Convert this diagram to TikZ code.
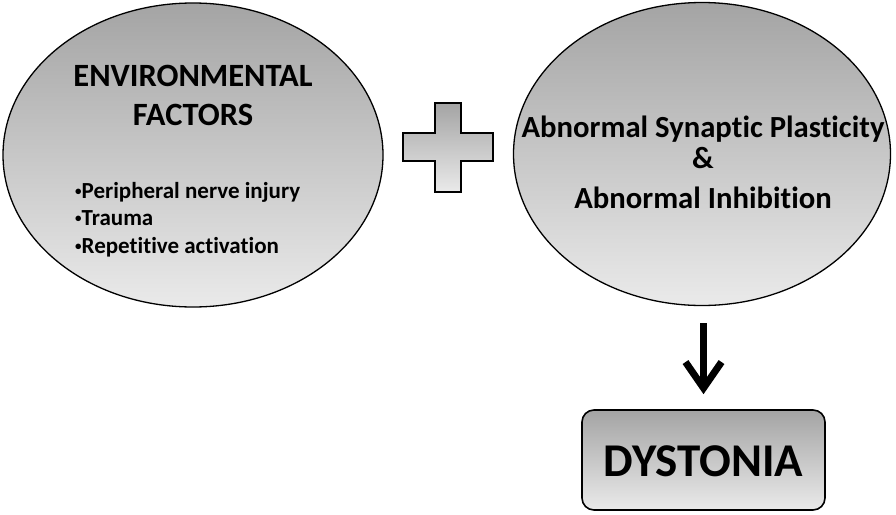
\documentclass[tikz,border=0pt]{standalone}
\usepackage{fontspec}
\setmainfont[Ligatures=NoCommon,RawFeature=-liga]{Carlito}
\usetikzlibrary{shapes.geometric,arrows.meta}
\definecolor{topg}{HTML}{A4A4A4}
\definecolor{botg}{HTML}{EAEAEA}
\newcommand{\smallbul}{\raisebox{2.5pt}{\fontsize{13}{13}\selectfont\textbullet}}
\tikzset{
  bubble/.style={ellipse, draw=black, line width=1.3pt, top color=topg, bottom color=botg, minimum width=#1},
  txt/.style={font=\bfseries, text=black, inner sep=0pt, anchor=base},
  endbox/.style={rectangle, rounded corners=12pt, draw=black, line width=1.6pt, top color=topg, bottom color=botg},
  bigarrow/.style={line width=7pt, -{Straight Barb[length=26pt,width=36pt]}}
}
\begin{document}
\begin{tikzpicture}[x=1pt,y=-1pt]
\useasboundingbox[fill=white] (0,0) rectangle (896,514);
% ellipses
\node[bubble=380pt, minimum height=304pt] (L) at (193,155) {};
\node[bubble=377pt, minimum height=303pt] (R) at (702,154) {};
% left texts
\node[txt, font=\fontsize{32.5}{32.5}\selectfont\bfseries] (t1) at (193,86) {ENVIRONMENTAL};
\node[txt, font=\fontsize{32.5}{32.5}\selectfont\bfseries] (t2) at (193,125) {FACTORS};
\node[txt, anchor=base west, font=\fontsize{23}{23}\selectfont\bfseries] (b1) at (75,198) {\smallbul Peripheral nerve injury};
\node[txt, anchor=base west, font=\fontsize{23}{23}\selectfont\bfseries] (b2) at (75,225) {\smallbul Trauma};
\node[txt, anchor=base west, font=\fontsize{23}{23}\selectfont\bfseries] (b3) at (75,253) {\smallbul Repetitive activation};
% right texts
\node[txt, font=\fontsize{30.7}{30.7}\selectfont\bfseries] (r1) at (703,137) {Abnormal Synaptic Plasticity};
\node[txt, font=\fontsize{30.7}{30.7}\selectfont\bfseries] (r2) at (703,168) {\&};
\node[txt, font=\fontsize{30.7}{30.7}\selectfont\bfseries] (r3) at (703,208) {Abnormal Inhibition};
% plus sign
\draw[line width=2.6pt, top color=topg, bottom color=botg]
  (435,103) -- (461,103) -- (461,133) -- (493,133) -- (493,161) -- (461,161)
  -- (461,192) -- (435,192) -- (435,161) -- (403,161) -- (403,133) -- (435,133) -- cycle;
% dystonia box
\node[endbox, minimum width=243pt, minimum height=100pt] (D) at (703.5,460) {};
\node[txt, font=\fontsize{47}{47}\selectfont\bfseries] (dt) at (703.5,476) {DYSTONIA};
% arrow
\draw[bigarrow, shorten <=17pt, shorten >=15pt] (D.north |- R.south) -- (D.north);
\end{tikzpicture}
\end{document}
